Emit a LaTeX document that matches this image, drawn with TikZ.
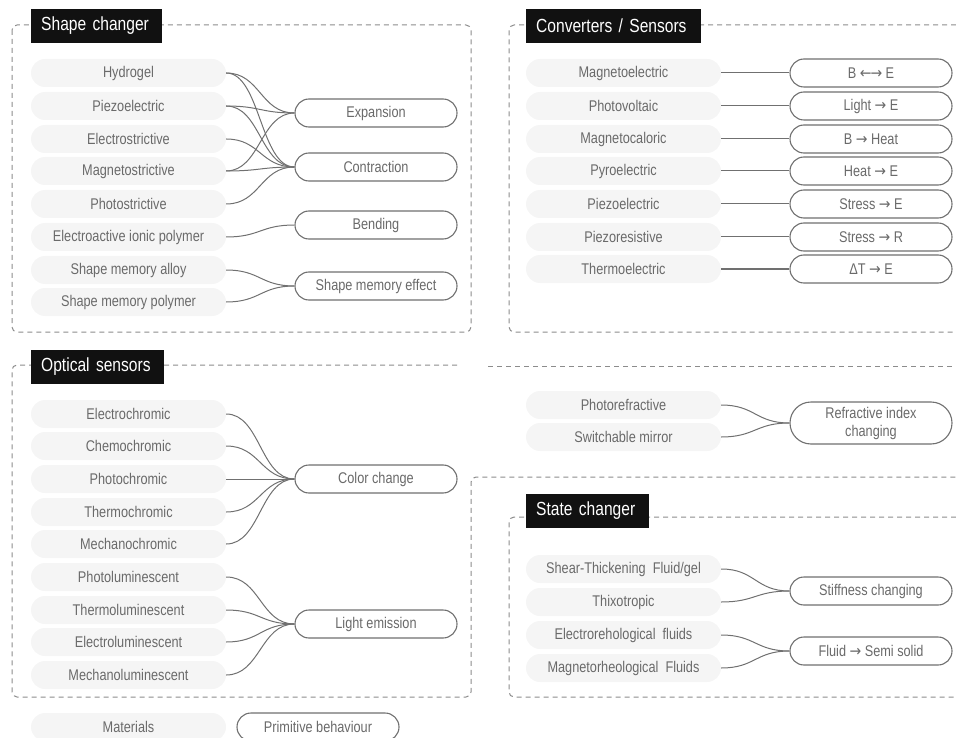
\documentclass[tikz,border=0pt]{standalone}
\usepackage{fontspec}
\setmainfont{Liberation Sans}[FakeStretch=0.82]
\newfontfamily\myarrowfont{DejaVu Sans}[FakeStretch=0.9]
\newcommand{\myra}{{\myarrowfont →}}
\newcommand{\myla}{{\myarrowfont ←}}
\definecolor{matfill}{HTML}{F5F5F5}
\definecolor{txtc}{HTML}{6A6A6A}
\definecolor{edgec}{HTML}{707070}
\definecolor{dashc}{HTML}{8C8C8C}
\definecolor{ttlc}{HTML}{111111}
\newcommand{\mypfont}{\fontsize{15.5}{19}\selectfont}
\newcommand{\mytfont}{\fontsize{19}{22}\selectfont}
\tikzset{
 mat/.style={fill=matfill, rounded corners=14pt, minimum width=195pt, minimum height=28pt, inner sep=0pt, text=txtc, font=\mypfont},
 beh/.style={draw=edgec, line width=1.1pt, fill=white, rounded corners=14pt, minimum width=162pt, minimum height=28pt, inner sep=0pt, text=txtc, font=\mypfont},
 conn/.style={draw=edgec, line width=1pt},
 dbox/.style={draw=dashc, line width=1pt, dash pattern=on 5pt off 4pt, rounded corners=5pt},
 ttlbox/.style={fill=ttlc, text=white, font=\mytfont, anchor=west, minimum height=34pt, inner xsep=10pt, inner ysep=0pt, align=left},
}
\begin{document}
\begin{tikzpicture}[x=1pt,y=-1pt]
\useasboundingbox (0,0) rectangle (956,738);
% ---------- dashed frames
\draw[dbox] (12,25) rectangle (471,332);
\draw[dbox] (956,25) -- (509,25) -- (509,332) -- (956,332);
\draw[dbox] (457,365) -- (12,365) -- (12,697) -- (471,697) -- (471,477) -- (956,477);
\draw[dbox] (488,366) -- (956,366);
\draw[dbox] (956,517) -- (509,517) -- (509,697) -- (956,697);
% ---------- titles
\node[ttlbox, text width=111pt] (t1) at (31,26) {Shape changer};
\node[ttlbox, text width=155pt] (t2) at (526,26) {Converters / Sensors};
\node[ttlbox, text width=113pt] (t3) at (31,367) {Optical sensors};
\node[ttlbox, text width=103pt] (t4) at (526,511) {State changer};
% ---------- shape changer
\node[mat] (sc1) at (128.5,73) {Hydrogel};
\node[mat] (sc2) at (128.5,106) {Piezoelectric};
\node[mat] (sc3) at (128.5,139) {Electrostrictive};
\node[mat] (sc4) at (128.5,171) {Magnetostrictive};
\node[mat] (sc5) at (128.5,204) {Photostrictive};
\node[mat] (sc6) at (128.5,237) {Electroactive ionic polymer};
\node[mat] (sc7) at (128.5,270) {Shape memory alloy};
\node[mat] (sc8) at (128.5,302) {Shape memory polymer};
\node[beh] (exp) at (376,113) {Expansion};
\node[beh] (con) at (376,167) {Contraction};
\node[beh] (ben) at (376,225) {Bending};
\node[beh] (sme) at (376,286) {Shape memory effect};
\foreach \a/\b in {sc1/exp,sc1/con,sc2/exp,sc2/con,sc3/con,sc4/exp,sc4/con,sc5/con,sc6/ben,sc7/sme,sc8/sme}
  \draw[conn] (\a.east) .. controls +(34,0) and +(-34,0) .. (\b.west);
% ---------- converters / sensors
\node[mat] (cv1) at (623.5,73) {Magnetoelectric};
\node[mat] (cv2) at (623.5,106) {Photovoltaic};
\node[mat] (cv3) at (623.5,139) {Magnetocaloric};
\node[mat] (cv4) at (623.5,171) {Pyroelectric};
\node[mat] (cv5) at (623.5,204) {Piezoelectric};
\node[mat] (cv6) at (623.5,237) {Piezoresistive};
\node[mat] (cv7) at (623.5,269) {Thermoelectric};
\node[beh] (cb1) at (871,73) {B \myla\kern-1pt\myra{} E};
\node[beh] (cb2) at (871,106) {Light \myra{} E};
\node[beh] (cb3) at (871,139) {B \myra{} Heat};
\node[beh] (cb4) at (871,171) {Heat \myra{} E};
\node[beh] (cb5) at (871,204) {Stress \myra{} E};
\node[beh] (cb6) at (871,237) {Stress \myra{} R};
\node[beh] (cb7) at (871,269) {ΔT \myra{} E};
\foreach \i in {1,...,7}
  \draw[conn] (cv\i.east) -- (cb\i.west);
% ---------- optical
\node[mat] (op1) at (128.5,414) {Electrochromic};
\node[mat] (op2) at (128.5,446) {Chemochromic};
\node[mat] (op3) at (128.5,479) {Photochromic};
\node[mat] (op4) at (128.5,512) {Thermochromic};
\node[mat] (op5) at (128.5,544) {Mechanochromic};
\node[mat] (op6) at (128.5,577) {Photoluminescent};
\node[mat] (op7) at (128.5,610) {Thermoluminescent};
\node[mat] (op8) at (128.5,642) {Electroluminescent};
\node[mat] (op9) at (128.5,675) {Mechanoluminescent};
\node[beh] (col) at (376,479) {Color change};
\node[beh] (lem) at (376,624) {Light emission};
\foreach \a/\b in {op1/col,op2/col,op3/col,op4/col,op5/col,op6/lem,op7/lem,op8/lem,op9/lem}
  \draw[conn] (\a.east) .. controls +(34,0) and +(-34,0) .. (\b.west);
% ---------- refractive
\node[mat] (rf1) at (623.5,405) {Photorefractive};
\node[mat] (rf2) at (623.5,437) {Switchable mirror};
\node[beh, minimum height=42pt, rounded corners=21pt, align=center] (ric) at (871,423) {Refractive index\\[-1pt]changing};
\foreach \a in {rf1,rf2}
  \draw[conn] (\a.east) .. controls +(34,0) and +(-34,0) .. (ric.west);
% ---------- state changer
\node[mat] (st1) at (623.5,569) {Shear-Thickening\ \ Fluid/gel};
\node[mat] (st2) at (623.5,602) {Thixotropic};
\node[mat] (st3) at (623.5,635) {Electrorehological\ \ fluids};
\node[mat] (st4) at (623.5,668) {Magnetorheological\ \ Fluids};
\node[beh] (stf) at (871,591) {Stiffness changing};
\node[beh] (fss) at (871,651) {Fluid \myra{} Semi solid};
\foreach \a/\b in {st1/stf,st2/stf,st3/fss,st4/fss}
  \draw[conn] (\a.east) .. controls +(34,0) and +(-34,0) .. (\b.west);
% ---------- legend
\node[mat] (lg1) at (128.5,727) {Materials};
\node[beh] (lg2) at (318,727) {Primitive behaviour};
\end{tikzpicture}
\end{document}
